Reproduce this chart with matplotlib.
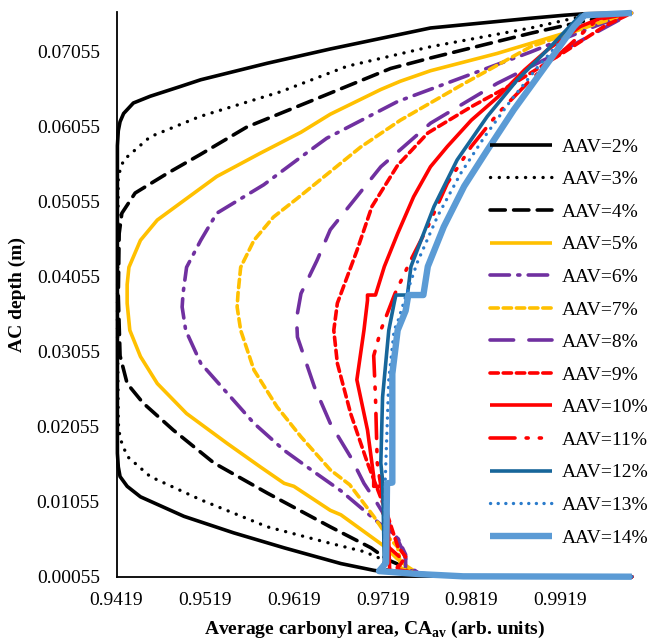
import matplotlib
matplotlib.use('Agg')
import matplotlib.pyplot as plt

plt.rcParams['font.family'] = ['Liberation Serif', 'DejaVu Serif']
plt.rcParams['mathtext.fontset'] = 'custom'
plt.rcParams['mathtext.rm'] = 'Liberation Serif'
plt.rcParams['mathtext.bf'] = 'Liberation Serif:bold'
plt.rcParams['lines.scale_dashes'] = False

# tick labels
x_ticks = [0.9419, 0.9519, 0.9619, 0.9719, 0.9819, 0.9919]
x_tick_labels = ['0.9419', '0.9519', '0.9619', '0.9719', '0.9819', '0.9919']
y_ticks = [0.00055, 0.01055, 0.02055, 0.03055, 0.04055, 0.05055, 0.06055, 0.07055]
y_tick_labels = ['0.00055', '0.01055', '0.02055', '0.03055', '0.04055', '0.05055', '0.06055', '0.07055']

labels = ['AAV=2%', 'AAV=3%', 'AAV=4%', 'AAV=5%', 'AAV=6%', 'AAV=7%', 'AAV=8%',
          'AAV=9%', 'AAV=10%', 'AAV=11%', 'AAV=12%', 'AAV=13%', 'AAV=14%']

# carbonyl area (x) and depth (y), bottom -> top
ca_2 = [1.0, 0.981, 0.976, 0.9721, 0.9709, 0.9672, 0.9608, 0.9551, 0.9495, 0.9446, 0.9431, 0.9423,
        0.9421, 0.9420, 0.9420, 0.9420, 0.9421, 0.9423, 0.9427, 0.9438, 0.9457, 0.9491, 0.9514,
        0.9589, 0.9660, 0.9773, 0.9886, 0.9924, 0.9947, 1.0]
d_2 = [0.00055, 0.0006, 0.0009, 0.0012, 0.0014, 0.0023, 0.0044, 0.0064, 0.0086, 0.0112, 0.0126, 0.0139,
       0.0152, 0.0170, 0.0350, 0.0580, 0.0600, 0.0612, 0.0623, 0.0637, 0.0646, 0.0659, 0.0668,
       0.0690, 0.0709, 0.0737, 0.0750, 0.0754, 0.0756, 0.0757]

ca_3 = [1.0, 0.981, 0.976, 0.9722, 0.9720, 0.9698, 0.9660, 0.9589, 0.9514, 0.9457, 0.9431, 0.9423,
        0.9421, 0.9420, 0.9421, 0.9427, 0.9457, 0.9513, 0.9604, 0.9679, 0.9773, 0.9886, 0.9942, 1.0]
d_3 = [0.00055, 0.0006, 0.0009, 0.0015, 0.0028, 0.0039, 0.0050, 0.0072, 0.0108, 0.0139, 0.0166, 0.0190,
       0.0210, 0.0350, 0.0540, 0.0561, 0.0592, 0.0619, 0.0652, 0.0686, 0.0712, 0.0737, 0.0752, 0.0757]

ca_4 = [1.0, 0.981, 0.976, 0.9725, 0.9706, 0.9660, 0.9589, 0.9529, 0.9483, 0.9449, 0.9431, 0.9423,
        0.9421, 0.9422, 0.9425, 0.9440, 0.9476, 0.9513, 0.9566, 0.9641, 0.9728, 0.9773, 0.9886,
        0.9961, 1.0]
d_4 = [0.00055, 0.0006, 0.0010, 0.0028, 0.0044, 0.0072, 0.0117, 0.0157, 0.0201, 0.0237, 0.0263, 0.0300,
       0.0380, 0.0463, 0.0490, 0.0517, 0.0543, 0.0568, 0.0605, 0.0641, 0.0683, 0.0697, 0.0730,
       0.0750, 0.0757]

ca_5 = [1.0, 0.981, 0.976, 0.9747, 0.9735, 0.9721, 0.9672, 0.9660, 0.9619, 0.9608, 0.9581, 0.9544,
        0.9498, 0.9465, 0.9446, 0.9434, 0.9431, 0.9431, 0.9433, 0.9446, 0.9465, 0.9495, 0.9532,
        0.9581, 0.9627, 0.9660, 0.9717, 0.9739, 0.9773, 0.9848, 0.9924, 0.9980, 1.0]
d_5 = [0.00055, 0.0006, 0.0009, 0.0019, 0.0030, 0.0046, 0.0088, 0.0094, 0.0126, 0.0130, 0.0152, 0.0183,
       0.0223, 0.0263, 0.0299, 0.0334, 0.0370, 0.0395, 0.0418, 0.0454, 0.0481, 0.0507, 0.0539,
       0.0570, 0.0598, 0.0622, 0.0655, 0.0666, 0.0680, 0.0703, 0.0730, 0.0750, 0.0757]

ca_6 = [1.0, 0.981, 0.976, 0.9745, 0.9745, 0.9735, 0.9715, 0.9672, 0.9642, 0.9608, 0.9574, 0.9544,
        0.9514, 0.9497, 0.9493, 0.9494, 0.9498, 0.9514, 0.9532, 0.9585, 0.9627, 0.9656, 0.9736,
        0.9886, 0.9960, 1.0]
d_6 = [0.00055, 0.0006, 0.0010, 0.0016, 0.0035, 0.0060, 0.0077, 0.0120, 0.0145, 0.0174, 0.0210, 0.0250,
       0.0290, 0.0334, 0.0365, 0.0383, 0.0418, 0.0454, 0.0490, 0.0528, 0.0565, 0.0590, 0.0639,
       0.0705, 0.0740, 0.0757]

ca_7 = [1.0, 0.981, 0.976, 0.9740, 0.9736, 0.9724, 0.9709, 0.9682, 0.9660, 0.9627, 0.9600, 0.9574,
        0.9559, 0.9555, 0.9556, 0.9559, 0.9574, 0.9596, 0.9623, 0.9694, 0.9739, 0.9811, 0.9886,
        0.9961, 1.0]
d_7 = [0.00055, 0.0006, 0.0010, 0.0016, 0.0045, 0.0060, 0.0086, 0.0128, 0.0148, 0.0192, 0.0232, 0.0281,
       0.0334, 0.0365, 0.0383, 0.0418, 0.0454, 0.0485, 0.0510, 0.0578, 0.0614, 0.0663, 0.0712,
       0.0743, 0.0757]

ca_8 = [1.0, 0.981, 0.976, 0.9748, 0.9740, 0.9730, 0.9713, 0.9698, 0.9683, 0.9660, 0.9642, 0.9623,
        0.9622, 0.9627, 0.9645, 0.9660, 0.9717, 0.9773, 0.9848, 0.9924, 1.0]
d_8 = [0.00055, 0.0006, 0.0010, 0.0020, 0.0045, 0.0070, 0.0103, 0.0130, 0.0165, 0.0210, 0.0259, 0.0325,
       0.0350, 0.0383, 0.0427, 0.0468, 0.0552, 0.0610, 0.0663, 0.0708, 0.0757]

ca_9 = [1.0, 0.981, 0.976, 0.9735, 0.9745, 0.9736, 0.9725, 0.9702, 0.9683, 0.9668, 0.9664, 0.9668,
        0.9690, 0.9707, 0.9736, 0.9770, 0.9819, 0.9867, 0.9924, 0.9970, 1.0]
d_9 = [0.00055, 0.0006, 0.0010, 0.0015, 0.0032, 0.0046, 0.0086, 0.0157, 0.0223, 0.0290, 0.0334, 0.0370,
       0.0440, 0.0499, 0.0554, 0.0597, 0.0632, 0.0663, 0.0705, 0.0740, 0.0757]

ca_10 = [1.0, 0.981, 0.976, 0.9727, 0.9725, 0.9721, 0.9709, 0.9709, 0.9702, 0.9690, 0.9698, 0.9702,
         0.9702, 0.9711, 0.9721, 0.9736, 0.9754, 0.9773, 0.9792, 0.9819, 0.9849, 0.9879, 0.9905,
         0.9942, 0.9969, 1.0]
d_10 = [0.00055, 0.0006, 0.0009, 0.0014, 0.0086, 0.0126, 0.0126, 0.0139, 0.0201, 0.0268, 0.0334, 0.0374,
        0.0381, 0.0381, 0.0419, 0.0463, 0.0512, 0.0552, 0.0579, 0.0614, 0.0645, 0.0681, 0.0708,
        0.0739, 0.0752, 0.0757]

ca_11 = [1.0, 0.981, 0.976, 0.9735, 0.9740, 0.9721, 0.9719, 0.9713, 0.9711, 0.9709, 0.9717, 0.9733,
         0.9751, 0.9770, 0.9792, 0.9819, 0.9849, 0.9886, 0.9924, 0.9961, 1.0]
d_11 = [0.00055, 0.0006, 0.0009, 0.0016, 0.0030, 0.0050, 0.0112, 0.0157, 0.0245, 0.0300, 0.0334, 0.0383,
        0.0428, 0.0472, 0.0530, 0.0579, 0.0623, 0.0668, 0.0708, 0.0748, 0.0757]

ca_12 = [1.0, 0.981, 0.976, 0.9715, 0.9721, 0.9719, 0.9717, 0.9719, 0.9726, 0.9732, 0.9734, 0.9747,
         0.9751, 0.9777, 0.9803, 0.9837, 0.9871, 0.9905, 0.9942, 1.0]
d_12 = [0.00055, 0.0006, 0.0009, 0.0013, 0.0024, 0.0134, 0.0157, 0.0245, 0.0334, 0.0370, 0.0381, 0.0381,
        0.0419, 0.0499, 0.0561, 0.0619, 0.0668, 0.0708, 0.0754, 0.0757]

ca_13 = [1.0, 0.981, 0.976, 0.9717, 0.9721, 0.9722, 0.9726, 0.9732, 0.9736, 0.9745, 0.9758, 0.9781,
         0.9807, 0.9834, 0.9864, 0.9894, 0.9924, 0.9947, 1.0]
d_13 = [0.00055, 0.0006, 0.0009, 0.0013, 0.0024, 0.0134, 0.0268, 0.0334, 0.0345, 0.0379, 0.0424, 0.0486,
        0.0543, 0.0592, 0.0641, 0.0685, 0.0725, 0.0752, 0.0757]

ca_14 = [1.0, 0.981, 0.976, 0.9715, 0.9723, 0.9724, 0.9730, 0.9730, 0.9736, 0.9745, 0.9748, 0.9765,
         0.9770, 0.9788, 0.9811, 0.9837, 0.9867, 0.9894, 0.9916, 0.9935, 0.9947, 1.0]
d_14 = [0.00055, 0.0006, 0.0009, 0.0013, 0.0024, 0.0130, 0.0131, 0.0276, 0.0334, 0.0360, 0.0381, 0.0381,
        0.0419, 0.0472, 0.0526, 0.0574, 0.0628, 0.0672, 0.0708, 0.0739, 0.0754, 0.0757]

all_ca = [ca_2, ca_3, ca_4, ca_5, ca_6, ca_7, ca_8, ca_9, ca_10, ca_11, ca_12, ca_13, ca_14]
all_d = [d_2, d_3, d_4, d_5, d_6, d_7, d_8, d_9, d_10, d_11, d_12, d_13, d_14]

black = '#000000'
yellow = '#FFC000'
purple = '#7030A0'
red = '#FF0000'
# (color, linewidth, linestyle)
styles = [
    (black, 2.6, '-'),
    (black, 2.4, (0, (0.1, 6.2))),
    (black, 2.6, (0, (11, 6))),
    (yellow, 2.6, '-'),
    (purple, 2.6, (0, (14, 6, 1.5, 6))),
    (yellow, 2.6, (0, (6, 3.5))),
    (purple, 2.6, (0, (17, 11))),
    (red, 2.6, (0, (6, 3.5))),
    (red, 2.6, '-'),
    (red, 2.6, (0, (18, 8, 1.5, 8, 1.5, 8))),
    ('#17669A', 2.6, '-'),
    ('#2A7BCB', 2.4, (0, (0.1, 5.4))),
    ('#5B9BD5', 4.6, '-'),
]

fig = plt.figure(figsize=(6.52, 6.44), dpi=100)
ax = fig.add_axes([0.1787, 0.1045, 0.7903, 0.8765])

for ca, d, lab, (c, lw, ls) in zip(all_ca, all_d, labels, styles):
    ax.plot(ca, d, color=c, lw=lw, linestyle=ls, label=lab,
            dash_capstyle='round', solid_capstyle='butt', clip_on=False)

ax.set_xlim(0.9419, 1.0)
ax.set_ylim(0.00055, 0.0758)
ax.set_xticks(x_ticks)
ax.set_xticklabels(x_tick_labels)
ax.set_yticks(y_ticks)
ax.set_yticklabels(y_tick_labels)
ax.tick_params(axis='both', length=0, labelsize=14)
ax.tick_params(axis='y', pad=12)
ax.tick_params(axis='x', pad=11)

for side in ['top', 'right']:
    ax.spines[side].set_visible(False)
for side in ['left', 'bottom']:
    ax.spines[side].set_linewidth(1.3)
    ax.spines[side].set_zorder(0)

ax.set_ylabel('AC depth (m)', fontsize=14, fontweight='bold', labelpad=8)
ax.set_xlabel(r'Average carbonyl area, CA$_{\mathbf{av}}$ (arb. units)', fontsize=14,
              fontweight='bold', labelpad=7)

ax.legend(loc='upper left', bbox_to_anchor=(490 / 652, 1 - 138 / 644),
          bbox_transform=fig.transFigure, frameon=False, fontsize=14,
          handlelength=3.2, handletextpad=0.5, labelspacing=0.77,
          borderpad=0, borderaxespad=0)

fig.savefig('out.png', dpi=100)
